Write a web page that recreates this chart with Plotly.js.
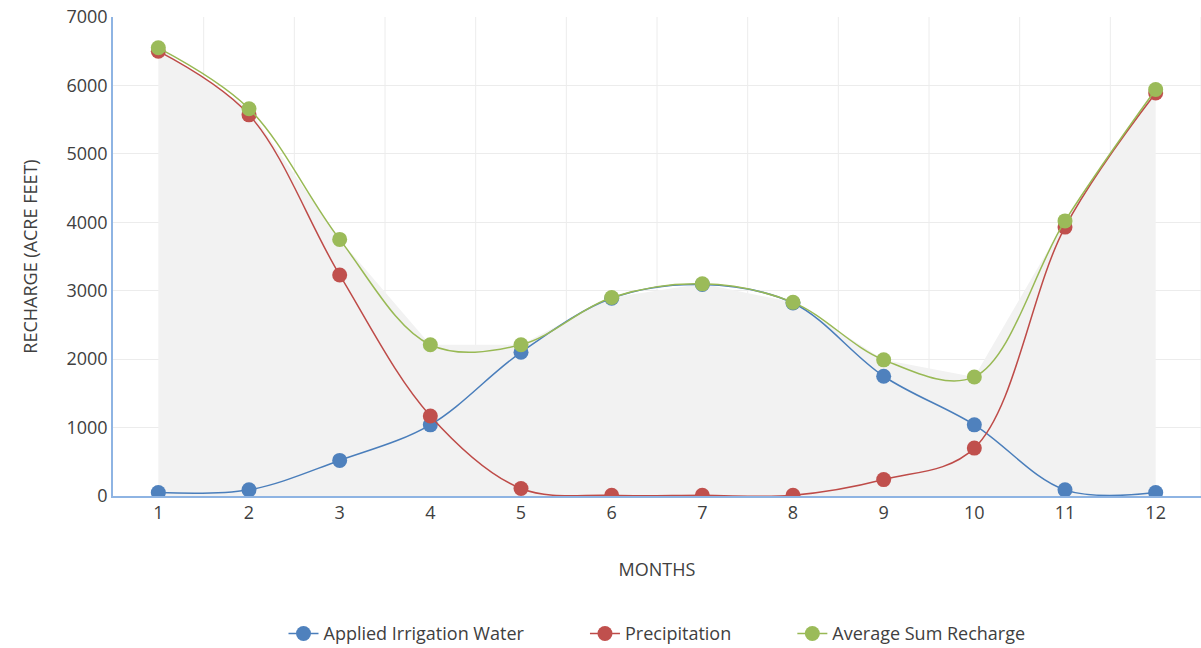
<!DOCTYPE html>
<html>
<head>
<meta charset="utf-8">
<script src="https://cdn.plot.ly/plotly-3.0.1.min.js"></script>
<style>body{margin:0}#chart{width:1201px;height:648px}</style>
</head>
<body>
<div id="chart"></div>
<script>
const months = [1,2,3,4,5,6,7,8,9,10,11,12];
const irrigation = [50,90,520,1040,2100,2890,3090,2820,1750,1040,90,50];
const precipitation = [6500,5570,3230,1170,110,10,10,10,240,700,3930,5890];
const avgSum = [6550,5660,3750,2210,2210,2900,3100,2830,1990,1740,4020,5940];

const mk = (c)=>({size:15,color:c});
const traces = [
  {x:months,y:avgSum,type:'scatter',mode:'none',fill:'tozeroy',fillcolor:'#f2f2f2',
   hoverinfo:'skip',showlegend:false},
  {x:months,y:irrigation,type:'scatter',mode:'lines+markers',name:'Applied Irrigation Water            ',
   line:{color:'#4a7ebb',width:1.5,shape:'spline'},marker:mk('#4f81bd')},
  {x:months,y:precipitation,type:'scatter',mode:'lines+markers',name:'Precipitation            ',
   line:{color:'#be4b48',width:1.5,shape:'spline'},marker:mk('#c0504d')},
  {x:months,y:avgSum,type:'scatter',mode:'lines+markers',name:'Average Sum Recharge',
   line:{color:'#98b954',width:1.5,shape:'spline'},marker:mk('#9bbb59')}
];
const layout = {
  width:1201,height:648,
  margin:{l:113,r:0,t:17,b:152},
  paper_bgcolor:'#fff',plot_bgcolor:'#fff',
  font:{family:'Open Sans, Liberation Sans, sans-serif',size:18,color:'#404040'},
  xaxis:{range:[0.5,12.5],tickvals:months,showgrid:false,zeroline:false,
    showline:true,linecolor:'#8eb4e3',linewidth:1.5,ticks:'',
    title:{text:'MONTHS',font:{size:18},standoff:40}},
  yaxis:{range:[0,7000],dtick:1000,gridcolor:'#ececec',zeroline:false,
    showline:true,linecolor:'#8eb4e3',linewidth:1.5,ticks:'',
    title:{text:'RECHARGE (ACRE FEET)',font:{size:18},standoff:24}},
  shapes:[1.5,2.5,3.5,4.5,5.5,6.5,7.5,8.5,9.5,10.5,11.5,12.5].map(v=>({
    type:'line',xref:'x',yref:'paper',x0:v,x1:v,y0:0,y1:1,layer:'below',
    line:{color:'#ececec',width:1}})),
  legend:{orientation:'h',x:0.5,xanchor:'center',yref:'container',y:0.022,yanchor:'middle',font:{size:18}},
  showlegend:true
};
Plotly.newPlot('chart',traces,layout,{displayModeBar:false});
</script>
</body>
</html>
